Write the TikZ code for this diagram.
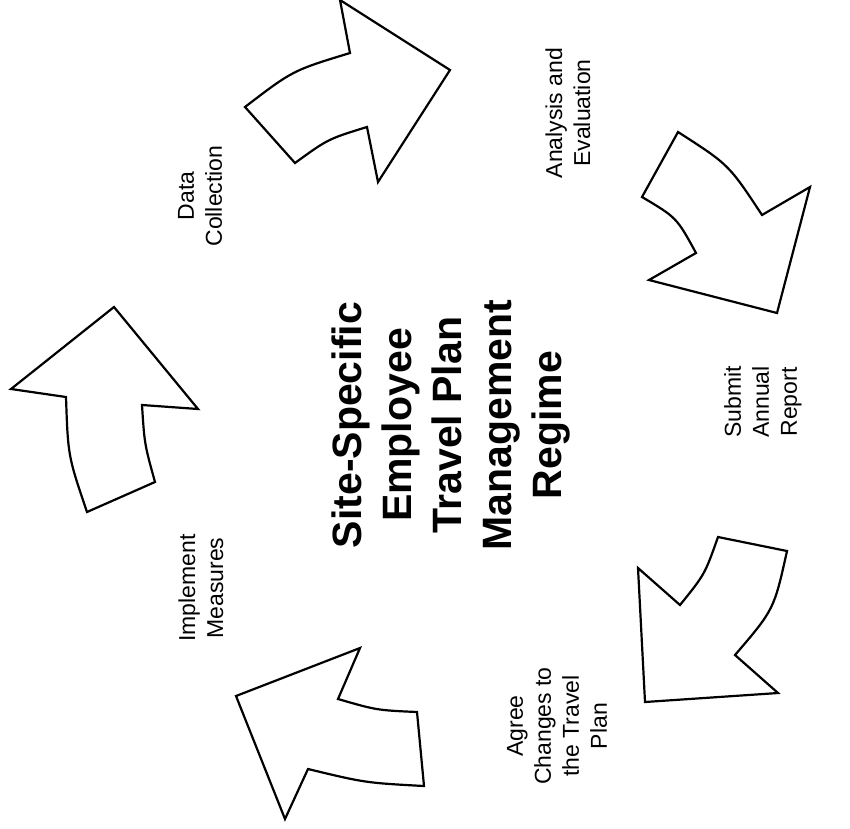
\documentclass[tikz,border=0pt]{standalone}
\usepackage{fontspec}
\setmainfont{Liberation Sans}
\usetikzlibrary{positioning}

\tikzset{
  cyclearrow/.style={draw=black, line width=2.2pt, line join=miter, fill=white},
  steplabel/.style={rotate=90, align=center, font=\fontsize{23}{28}\selectfont},
  hubtitle/.style={rotate=90, align=center, font=\fontsize{41}{50}\selectfont\bfseries},
}

\begin{document}
\begin{tikzpicture}[x=1pt,y=-1pt]
    \useasboundingbox (0,0) rectangle (850,828);
    % the five curved arrows of the cycle
    \draw[cyclearrow] (340,0) -- (350,53) .. controls (292.6,70.5) .. (245,107) -- (295,163)
        .. controls (328,139) .. (367,127) -- (378,182) -- (450,70) -- cycle;
    \draw[cyclearrow] (678,132) .. controls (728.8,164.6) .. (762,215) -- (810,187) -- (777,313)
        -- (649,280) -- (696,253) .. controls (676.7,217.6) .. (642,197) -- cycle;
    \draw[cyclearrow] (718,537) -- (787,551) .. controls (774,609.5) .. (735,655) -- (778,693)
        -- (645,702) -- (638,568) -- (680,605) .. controls (704.8,574.3) .. cycle;
    \draw[cyclearrow] (360,648) -- (338,699) .. controls (376.7,710.2) .. (417,712) -- (424,786)
        .. controls (365.2,782.8) .. (308,769) -- (285,819) -- (236,696) -- cycle;
    \draw[cyclearrow] (114,307) -- (198,409) -- (142,405) .. controls (144.5,444.2) .. (155,482)
        -- (87,512) .. controls (68,456) .. (66,397) -- (11,389) -- cycle;

    % centre title and step labels
    \node[hubtitle] (hub) at (451,425) {Site-Specific\\Employee\\Travel Plan\\Management\\Regime};
    \node[steplabel] (collect) at (200,196) {Data\\Collection};
    \node[steplabel] (analyse) at (568,113) {Analysis and\\Evaluation};
    \node[steplabel] (report) at (763,402) {Submit\\Annual\\Report};
    \node[steplabel] (agree) at (557,726) {Agree\\Changes to\\the Travel\\Plan};
    \node[steplabel] (implement) at (201,588) {Implement\\Measures};
\end{tikzpicture}
\end{document}
